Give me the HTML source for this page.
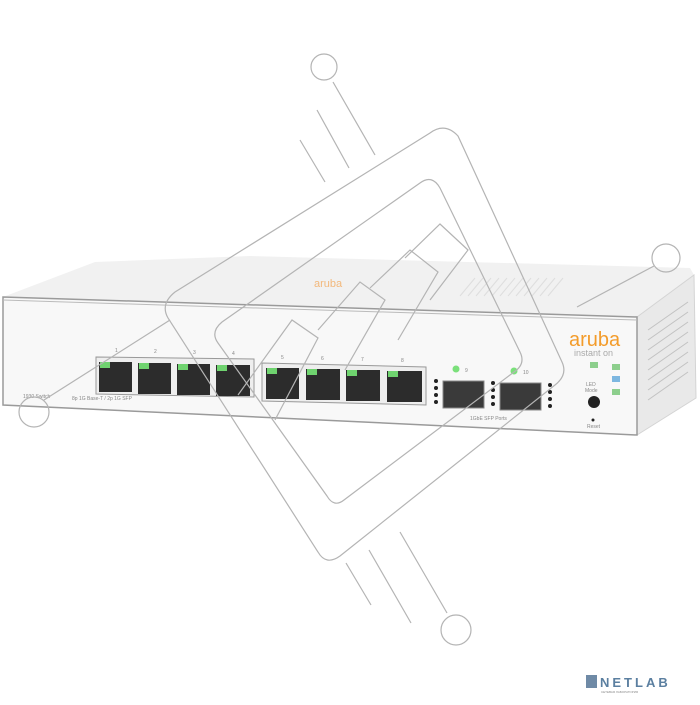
<!DOCTYPE html>
<html><head><meta charset="utf-8"><style>
body{margin:0;width:700px;height:700px;background:#fff;overflow:hidden;font-family:"Liberation Sans",sans-serif}
</style></head><body>
<svg width="700" height="700" viewBox="0 0 700 700" xmlns="http://www.w3.org/2000/svg">
<polygon points="3,297 95,262 250,256 690,268 694,275 637,317" fill="#f1f1f1"/>
<polygon points="637,317 694,275 696,398 637,435" fill="#e9e9e9" stroke="#d4d4d4"/>
<g stroke="#c2c2c2" stroke-width="1">
<line x1="648" y1="330" x2="688" y2="302"/><line x1="648" y1="340" x2="688" y2="312"/><line x1="648" y1="350" x2="688" y2="322"/><line x1="648" y1="360" x2="688" y2="332"/><line x1="648" y1="370" x2="688" y2="342"/><line x1="648" y1="380" x2="688" y2="352"/><line x1="648" y1="390" x2="688" y2="362"/><line x1="648" y1="400" x2="688" y2="372"/>
</g>
<g stroke="#dedede"><line x1="460" y1="296" x2="475" y2="278"/><line x1="468" y1="296" x2="483" y2="278"/><line x1="476" y1="296" x2="491" y2="278"/><line x1="484" y1="296" x2="499" y2="278"/><line x1="492" y1="296" x2="507" y2="278"/><line x1="500" y1="296" x2="515" y2="278"/><line x1="508" y1="296" x2="523" y2="278"/><line x1="516" y1="296" x2="531" y2="278"/><line x1="524" y1="296" x2="539" y2="278"/><line x1="532" y1="296" x2="547" y2="278"/><line x1="540" y1="296" x2="555" y2="278"/><line x1="548" y1="296" x2="563" y2="278"/></g>
<text x="314" y="287" font-size="11" fill="#f3a04a" opacity="0.7">aruba</text>
<polygon points="3,297 637,317 637,435 3,405" fill="#f8f8f8" stroke="#9a9a9a" stroke-width="1.5"/>
<line x1="3" y1="300" x2="637" y2="320" stroke="#bbb"/>
<polygon points="96,357 254,359 254,397 96,394" fill="#eee" stroke="#999"/>
<polygon points="262,363 426,367 426,405 262,401" fill="#eee" stroke="#999"/>
<g fill="#2c2c2c">
<rect x="99" y="362" width="33" height="30"/><rect x="138" y="363" width="33" height="31"/><rect x="177" y="364" width="33" height="31"/><rect x="216" y="365" width="34" height="31"/>
<rect x="266" y="368" width="33" height="31"/><rect x="306" y="369" width="34" height="31"/><rect x="346" y="370" width="34" height="31"/><rect x="387" y="371" width="35" height="31"/>
</g>
<g fill="#6fd36f">
<rect x="100" y="362" width="10" height="6"/><rect x="139" y="363" width="10" height="6"/><rect x="178" y="364" width="10" height="6"/><rect x="217" y="365" width="10" height="6"/>
<rect x="267" y="368" width="10" height="6"/><rect x="307" y="369" width="10" height="6"/><rect x="347" y="370" width="10" height="6"/><rect x="388" y="371" width="10" height="6"/>
</g>
<g font-size="5" fill="#888"><text x="115" y="352">1</text><text x="154" y="353">2</text><text x="193" y="354">3</text><text x="232" y="355">4</text><text x="281" y="359">5</text><text x="321" y="360">6</text><text x="361" y="361">7</text><text x="401" y="362">8</text>
<text x="23" y="398">1930 Switch</text><text x="72" y="400">8p 1G Base-T / 2p 1G SFP</text><text x="470" y="420">1GbE SFP Ports</text><text x="587" y="428">Reset</text><text x="586" y="386">LED</text><text x="585" y="392">Mode</text></g>
<rect x="443" y="381" width="41" height="27" fill="#3a3a3a" stroke="#888"/>
<rect x="500" y="383" width="41" height="27" fill="#3a3a3a" stroke="#888"/>
<circle cx="456" cy="369" r="3.5" fill="#7be07b"/><circle cx="514" cy="371" r="3.5" fill="#7be07b"/>
<text x="465" y="372" font-size="5" fill="#888">9</text><text x="523" y="374" font-size="5" fill="#888">10</text>
<g fill="#222"><circle cx="436" cy="381" r="2"/><circle cx="436" cy="388" r="2"/><circle cx="436" cy="395" r="2"/><circle cx="436" cy="402" r="2"/>
<circle cx="493" cy="383" r="2"/><circle cx="493" cy="390" r="2"/><circle cx="493" cy="397" r="2"/><circle cx="493" cy="404" r="2"/>
<circle cx="550" cy="385" r="2"/><circle cx="550" cy="392" r="2"/><circle cx="550" cy="399" r="2"/><circle cx="550" cy="406" r="2"/></g>
<text x="569" y="346" font-size="20" fill="#f39c2b" letter-spacing="0">aruba</text>
<text x="574" y="356" font-size="9" fill="#aaa">instant on</text>
<rect x="590" y="362" width="8" height="6" fill="#8dcf8d"/><rect x="612" y="364" width="8" height="6" fill="#8dcf8d"/>
<rect x="612" y="376" width="8" height="6" fill="#7db7e0"/><rect x="612" y="389" width="8" height="6" fill="#8dcf8d"/>
<circle cx="594" cy="402" r="6" fill="#222"/><circle cx="593" cy="420" r="1.5" fill="#222"/>
<g fill="none" stroke="#b4b4b4" stroke-width="1.2">
<circle cx="324" cy="67" r="13"/><circle cx="666" cy="258" r="14"/><circle cx="34" cy="412" r="15"/><circle cx="456" cy="630" r="15"/>
<line x1="333" y1="82" x2="375" y2="155"/><line x1="317" y1="110" x2="349" y2="168"/><line x1="300" y1="140" x2="325" y2="182"/>
<line x1="346" y1="563" x2="371" y2="605"/><line x1="369" y1="550" x2="411" y2="623"/><line x1="400" y1="532" x2="447" y2="613"/>
<line x1="654" y1="266" x2="577" y2="307"/>
<line x1="44" y1="400" x2="170" y2="320"/>
<path d="M430,133 Q445,122 458,136 L562,362 Q568,375 555,385 L340,556 Q326,566 318,552 L168,318 Q160,304 175,292 Z"/>
<path d="M420,183 Q432,174 440,188 L520,352 Q526,364 514,372 L344,500 Q334,508 327,496 L218,343 Q210,332 222,322 Z"/>
<path d="M238,395 L292,320 L318,338 L275,420 M318,330 L360,282 L385,300 L345,370 M370,288 L410,250 L438,272 L398,340 M405,258 L440,224 L468,250 L430,300"/>
</g>
<rect x="586" y="675" width="11" height="13" fill="#6f8aa6"/>
<text x="600" y="687" font-size="13" font-weight="bold" fill="#5b7fa0" letter-spacing="3">NETLAB</text>
<text x="601" y="693" font-size="3" fill="#888">СЕТЕВАЯ ЛАБОРАТОРИЯ</text>
</svg>
</body></html>
